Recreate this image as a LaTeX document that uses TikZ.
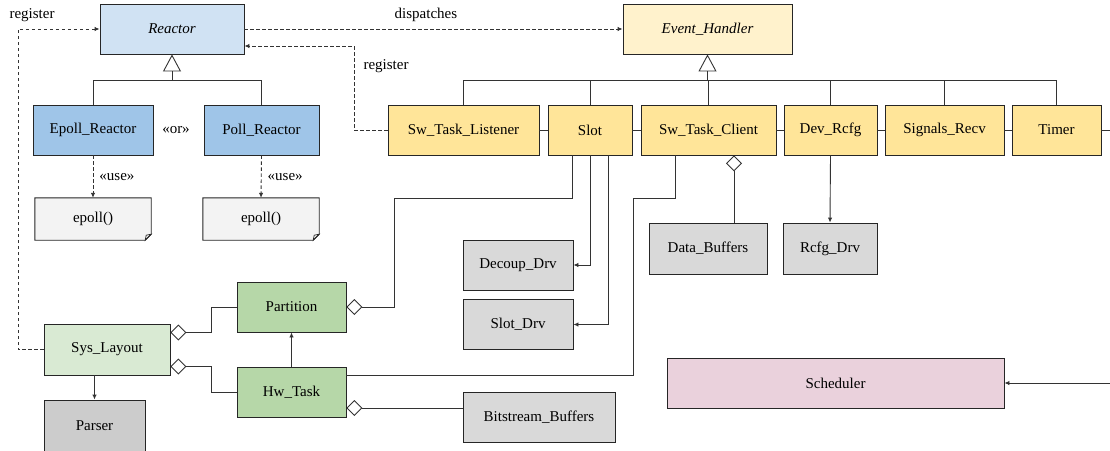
\documentclass[tikz,border=0pt]{standalone}
\usepackage{fontspec}
\setmainfont{Liberation Serif}
\usetikzlibrary{arrows.meta,calc}
\definecolor{rlight}{HTML}{D0E2F3}
\definecolor{rblue}{HTML}{9FC5E8}
\definecolor{ylight}{HTML}{FFF2CC}
\definecolor{yel}{HTML}{FFE599}
\definecolor{gry}{HTML}{D9D9D9}
\definecolor{gryd}{HTML}{CCCCCC}
\definecolor{notef}{HTML}{F3F3F3}
\definecolor{glight}{HTML}{D9EAD3}
\definecolor{grn}{HTML}{B6D7A8}
\definecolor{pink}{HTML}{EAD1DC}
\tikzset{
  box/.style={draw=black!85, line width=0.9pt, inner sep=0pt, anchor=center,
    font=\fontsize{15}{18}\selectfont},
  notebox/.style={inner sep=0pt, anchor=center, font=\fontsize{15}{18}\selectfont},
  lbl/.style={inner sep=0pt, font=\fontsize{15}{18}\selectfont},
  conn/.style={draw=black!80, line width=0.9pt},
  arr/.style={conn, -{Latex[length=5pt,width=4.5pt]}},
  darr/.style={arr, dash pattern=on 3.5pt off 2.5pt},
  inh/.style={conn, -{Triangle[open,length=17pt,width=18pt]}},
  agg/.style={conn, {Diamond[open,length=16pt,width=16pt]}-},
}
\begin{document}
\begin{tikzpicture}[x=1pt,y=-1pt]
\useasboundingbox (0,0) rectangle (1110,450);
% nodes
\node[box, fill=rlight, minimum width=144pt, minimum height=50pt, font=\fontsize{15}{18}\selectfont\itshape] (reactor) at (172,29) {Reactor};
\node[box, fill=rblue, minimum width=120pt, minimum height=50pt] (epoll) at (93,130) {Epoll\_Reactor};
\node[box, fill=rblue, minimum width=115pt, minimum height=50pt] (poll) at (261.5,130) {Poll\_Reactor};
\node[notebox, minimum width=116pt, minimum height=42pt] (note1) at (93,219) {};
\node[notebox, minimum width=116pt, minimum height=42pt] (note2) at (261,219) {};
\foreach \n in {note1,note2}{
  \filldraw[fill=notef, draw=black!85, line width=0.9pt]
    (\n.north west) -- (\n.north east) -- ([yshift=6pt]\n.south east)
    -- ([xshift=-6pt]\n.south east) -- (\n.south west) -- cycle;
  \draw[draw=black!85, line width=0.7pt]
    ([yshift=6pt]\n.south east) -- ([xshift=-6pt]\n.south east)
    -- ([xshift=-5pt,yshift=5pt]\n.south east) -- cycle;
  \node[lbl] at (\n) {epoll()};
}
\node[box, fill=ylight, minimum width=169pt, minimum height=50pt, font=\fontsize{15}{18}\selectfont\itshape] (evh) at (707.5,29) {Event\_Handler};
\node[box, fill=yel, minimum width=151pt, minimum height=50pt] (listener) at (463.5,130) {Sw\_Task\_Listener};
\node[box, fill=yel, minimum width=84pt, minimum height=50pt] (slot) at (590,130) {Slot};
\node[box, fill=yel, minimum width=135pt, minimum height=50pt] (client) at (708.5,130) {Sw\_Task\_Client};
\node[box, fill=yel, minimum width=93pt, minimum height=50pt] (devrcfg) at (830.5,130) {Dev\_Rcfg};
\node[box, fill=yel, minimum width=119pt, minimum height=50pt] (signals) at (944.5,130) {Signals\_Recv};
\node[box, fill=yel, minimum width=89pt, minimum height=50pt] (timer) at (1056.5,130) {Timer};
\node[box, fill=gry, minimum width=118pt, minimum height=51pt] (databuf) at (708,248.5) {Data\_Buffers};
\node[box, fill=gry, minimum width=94pt, minimum height=51pt] (rcfg) at (830,248.5) {Rcfg\_Drv};
\node[box, fill=gry, minimum width=110pt, minimum height=50pt] (decoup) at (518,265) {Decoup\_Drv};
\node[box, fill=gry, minimum width=110pt, minimum height=50pt] (slotdrv) at (518,324.5) {Slot\_Drv};
\node[box, fill=grn, minimum width=109pt, minimum height=50pt] (partition) at (291.5,307) {Partition};
\node[box, fill=grn, minimum width=109pt, minimum height=50pt] (hwtask) at (291.5,392) {Hw\_Task};
\node[box, fill=gry, minimum width=152pt, minimum height=50pt] (bitstream) at (539,417) {Bitstream\_Buffers};
\node[box, fill=glight, minimum width=126pt, minimum height=51pt] (syslayout) at (107,349.5) {Sys\_Layout};
\node[box, fill=gryd, minimum width=101pt, minimum height=51pt] (parser) at (94.5,425.5) {Parser};
\node[box, fill=pink, minimum width=337pt, minimum height=50pt] (scheduler) at (835.5,383) {Scheduler};
% helper coordinates
\coordinate (yb) at (0,80);
\coordinate (r1) at (18,29);
\coordinate (r2) at (354,46);
\coordinate (sx) at (211,0);
\coordinate (p1) at (394,198);
\coordinate (c2) at (633,198);
\coordinate (re) at (1116,0);
\coordinate (s1) at ([xshift=-18pt]slot.south);
\coordinate (s3) at ([xshift=18pt]slot.south);
\coordinate (c1) at ([xshift=-33.5pt]client.south);
\coordinate (c3) at ([xshift=25.5pt]client.south);
\coordinate (h1) at ([yshift=17pt]hwtask.east);
\coordinate (h2) at ([yshift=-16pt]hwtask.east);
\coordinate (sl1) at ([yshift=17pt]syslayout.east);
\coordinate (sl2) at ([yshift=-17pt]syslayout.east);
% Reactor hierarchy
\draw[conn] (epoll.north) -- (epoll.north |- yb) -- (poll.north |- yb) -- (poll.north);
\draw[inh] (reactor.south |- yb) -- (reactor.south);
\node[lbl] (orlbl) at (176,130) {«or»};
\draw[darr] (epoll.south) -- (note1.north) node[lbl, midway, right=6pt] {«use»};
\draw[darr] (poll.south) -- (note2.north) node[lbl, midway, right=6pt] {«use»};
% Event_Handler hierarchy
\draw[conn] (listener.north) -- (listener.north |- yb) -- (timer.north |- yb) -- (timer.north);
\draw[conn] (slot.north) -- (slot.north |- yb);
\draw[conn] (client.north) -- (client.north |- yb);
\draw[conn] (devrcfg.north) -- (devrcfg.north |- yb);
\draw[conn] (signals.north) -- (signals.north |- yb);
\draw[inh] (evh.south |- yb) -- (evh.south);
% chain through the handler row
\draw[conn] (listener.east) -- (slot.west);
\draw[conn] (slot.east) -- (client.west);
\draw[conn] (client.east) -- (devrcfg.west);
\draw[conn] (devrcfg.east) -- (signals.west);
\draw[conn] (signals.east) -- (timer.west);
\draw[arr] (timer.east) -- (timer.east -| re) -- (re |- scheduler.east) -- (scheduler.east);
% dashed relations
\draw[darr] (reactor.east) -- (evh.west) node[lbl, pos=0.48, above=7pt] {dispatches};
\draw[darr] (listener.west) -| (r2) -- (reactor.east |- r2);
\node[lbl] (reg2) at (386,66) {register};
\draw[darr] (syslayout.west) -| (r1) -- (reactor.west);
\node[lbl] (reg1) at (32,15) {register};
% lower relations
\draw[agg] (sl1) -- (sl1 -| sx) |- (partition.west);
\draw[agg] (sl2) -- (sl2 -| sx) |- (hwtask.west);
\draw[arr] (parser.north |- syslayout.south) -- (parser.north);
\draw[arr] (hwtask.north) -- (partition.south);
\draw[agg] (partition.east) -| (p1) -| (s1);
\draw[arr] (slot.south) |- (decoup.east);
\draw[arr] (s3) |- (slotdrv.east);
\draw[conn] (c1) |- (c2) |- (h1);
\draw[agg] (c3) -- (c3 |- databuf.north);
\draw[arr] (devrcfg.south) -- (rcfg.north);
\draw[agg] (h2) -- (h2 -| bitstream.west);
\end{tikzpicture}
\end{document}
